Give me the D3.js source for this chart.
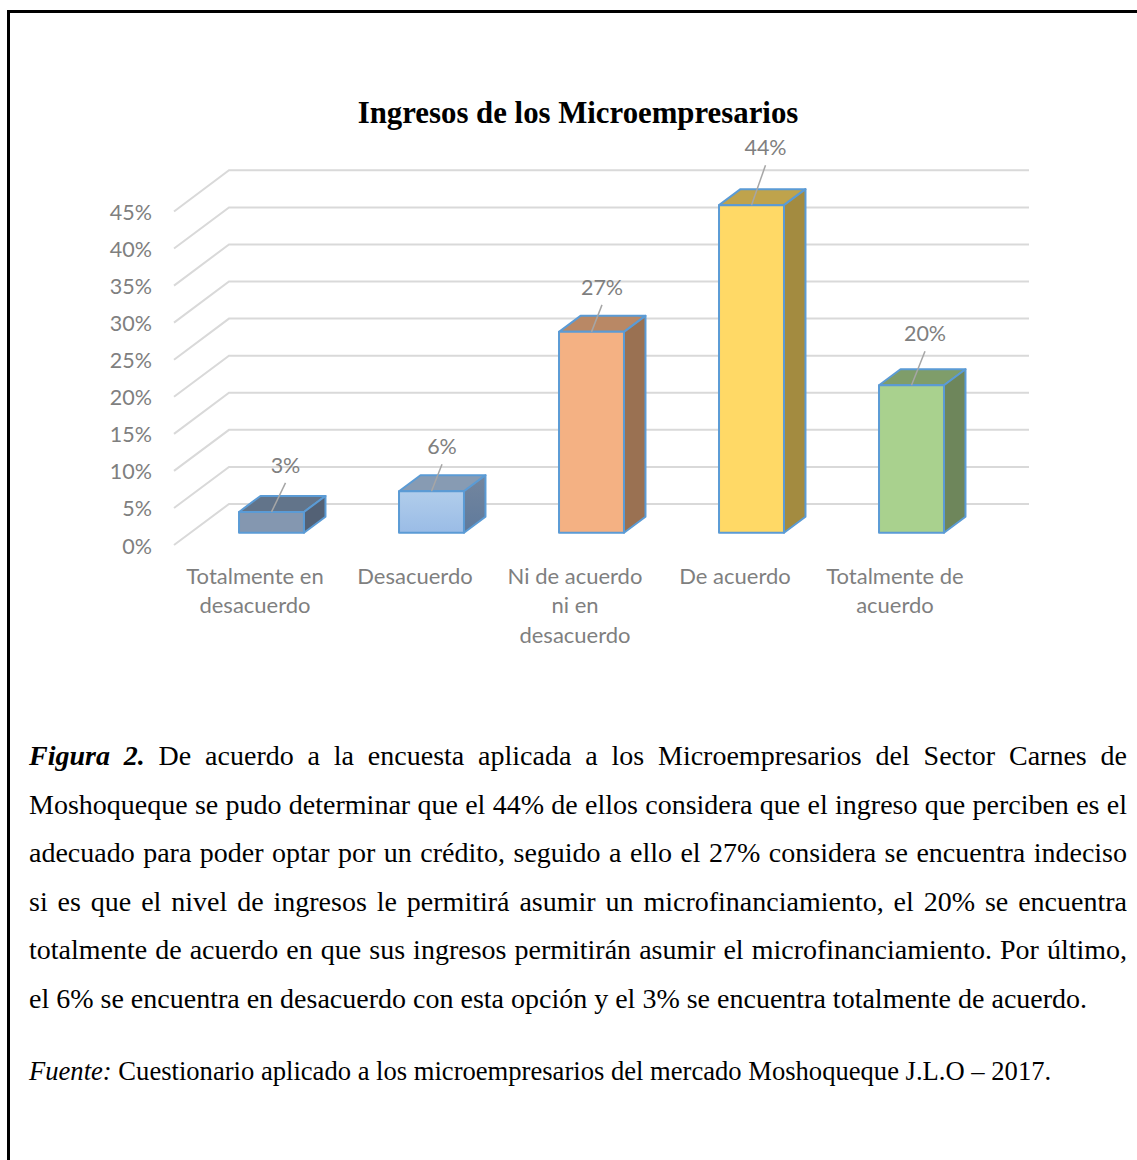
<!DOCTYPE html>
<html>
<head>
<meta charset="utf-8">
<title>Ingresos de los Microempresarios</title>
<script src="https://cdnjs.cloudflare.com/ajax/libs/d3/7.8.5/d3.min.js"></script>
<style>
	html, body { margin: 0; padding: 0; background: #fff; }
	svg { display: block; }
</style>
</head>
<body>
<div id="chart"></div>
<script>
var title = 'Ingresos de los Microempresarios';
var categories = ['Totalmente en desacuerdo', 'Desacuerdo', 'Ni de acuerdo ni en desacuerdo', 'De acuerdo', 'Totalmente de acuerdo'];
var categoryLines = [['Totalmente en', 'desacuerdo'], ['Desacuerdo'], ['Ni de acuerdo', 'ni en', 'desacuerdo'], ['De acuerdo'], ['Totalmente de', 'acuerdo']];
var values = [2.8, 5.6, 27.1, 44.2, 19.9];
var yTicks = [0, 5, 10, 15, 20, 25, 30, 35, 40, 45];

var frontColors = ['#8497b0', 'url(#front-blue)', '#f4b183', '#ffd966', '#a9d18e'];
var topColors = ['#62748a', '#879bb3', '#b98865', '#bfa34c', '#7f9d6a'];
var sideColors = ['#536175', 'url(#side-blue)', '#9a7152', '#a38b40', '#6e865b'];

// how far each label sits from the bar top, x and y
var leaderOffsets = [[14, -29], [10.5, -27], [10.5, -27], [14, -40], [13.5, -34]];

var captionLead = 'Figura 2.';
var captionLines = [
	'De acuerdo a la encuesta aplicada a los Microempresarios del Sector Carnes de',
	'Moshoqueque se pudo determinar que el 44% de ellos considera que el ingreso que perciben es el',
	'adecuado para poder optar por un crédito, seguido a ello el 27% considera se encuentra indeciso',
	'si es que el nivel de ingresos le permitirá asumir un microfinanciamiento, el 20% se encuentra',
	'totalmente de acuerdo en que sus ingresos permitirán asumir el microfinanciamiento. Por último,',
	'el 6% se encuentra en desacuerdo con esta opción y el 3% se encuentra totalmente de acuerdo.'
];
var sourceLead = 'Fuente:';
var sourceText = ' Cuestionario aplicado a los microempresarios del mercado Moshoqueque J.L.O – 2017.';

var width = 1137, height = 1160;
var sans = 'Lato, Carlito, Calibri, sans-serif';
var serif = '"Liberation Serif", "Times New Roman", serif';

var svg = d3.select('#chart').append('svg').attr('width', width).attr('height', height);

// frame, only top and left
svg.append('path')
	.attr('d', d3.line()([[1137, 11.5], [8.5, 11.5], [8.5, 1160]]))
	.attr('fill', 'none')
	.attr('stroke', '#000')
	.attr('stroke-width', 3);

var defs = svg.append('defs');

function gradient(id, from, to) {
	var g = defs.append('linearGradient').attr('id', id)
		.attr('x1', 0).attr('y1', 0).attr('x2', 0).attr('y2', 1);
	g.append('stop').attr('offset', '0%').attr('stop-color', from);
	g.append('stop').attr('offset', '100%').attr('stop-color', to);
}
gradient('front-blue', '#b1cdeb', '#9abce6');
gradient('side-blue', '#74869e', '#5f7a9c');

var yFront = d3.scaleLinear().domain([0, 45]).range([545, 211.5]);
var yBack = d3.scaleLinear().domain([0, 45]).range([504, 170.3]);
var yBar = d3.scaleLinear().domain([0, 45]).range([532.7, 199.2]);

var xBand = d3.scaleBand()
	.domain(categories)
	.range([191.5, 991.5])
	.paddingInner(0.594)
	.paddingOuter(0.297);

var floorLeft = 174, wallLeft = 229, wallRight = 1029;
var barDx = 21.5, barDy = 16;

// gridlines
var grid = svg.append('g');

grid.selectAll('path')
	.data(yTicks)
	.enter()
	.append('path')
	.attr('d', function(d) {
		return d3.line()([[floorLeft, yFront(d)], [wallLeft, yBack(d)], [wallRight, yBack(d)]]);
	})
	.attr('fill', 'none')
	.attr('stroke', '#d9d9d9')
	.attr('stroke-width', 2);

// y axis, labels only
var yAxis = d3.axisLeft(yFront)
	.tickValues(yTicks)
	.tickSize(0)
	.tickPadding(0)
	.tickFormat(function(d) { return d + '%'; });

var yAxisG = svg.append('g')
	.attr('transform', 'translate(152,0)')
	.call(yAxis);

yAxisG.select('.domain').remove();
yAxisG.selectAll('text')
	.attr('dy', 8)
	.attr('fill', '#7f7f7f')
	.style('font-family', sans)
	.style('font-size', '21.5px');

// bars
var bars = svg.append('g').selectAll('g')
	.data(values)
	.enter()
	.append('g');

function barLeft(i) { return xBand(categories[i]); }
function barRight(i) { return barLeft(i) + xBand.bandwidth(); }

bars.append('path')
	.attr('d', function(d, i) {
		var x0 = barLeft(i), x1 = barRight(i), y = yBar(d);
		return d3.line()([[x0, y], [x0 + barDx, y - barDy], [x1 + barDx, y - barDy], [x1, y]]) + 'Z';
	})
	.attr('fill', function(d, i) { return topColors[i]; });

bars.append('path')
	.attr('d', function(d, i) {
		var x1 = barRight(i), y = yBar(d), y0 = yBar(0);
		return d3.line()([[x1, y], [x1 + barDx, y - barDy], [x1 + barDx, y0 - barDy], [x1, y0]]) + 'Z';
	})
	.attr('fill', function(d, i) { return sideColors[i]; });

bars.append('rect')
	.attr('x', function(d, i) { return barLeft(i); })
	.attr('y', function(d) { return yBar(d); })
	.attr('width', xBand.bandwidth())
	.attr('height', function(d) { return yBar(0) - yBar(d); })
	.attr('fill', function(d, i) { return frontColors[i]; });

bars.selectAll('path, rect')
	.attr('stroke', '#5b9bd5')
	.attr('stroke-width', 2)
	.attr('stroke-linejoin', 'round');

// data labels and their leader lines
bars.append('line')
	.attr('x1', function(d, i) { return barLeft(i) + xBand.bandwidth() / 2; })
	.attr('y1', function(d) { return yBar(d); })
	.attr('x2', function(d, i) { return barLeft(i) + xBand.bandwidth() / 2 + leaderOffsets[i][0]; })
	.attr('y2', function(d, i) { return yBar(d) + leaderOffsets[i][1]; })
	.attr('stroke', '#a6a6a6')
	.attr('stroke-width', 1.5);

bars.append('text')
	.attr('x', function(d, i) { return barLeft(i) + xBand.bandwidth() / 2 + leaderOffsets[i][0]; })
	.attr('y', function(d, i) { return yBar(d) + leaderOffsets[i][1] - 10; })
	.attr('text-anchor', 'middle')
	.attr('fill', '#7f7f7f')
	.style('font-family', sans)
	.style('font-size', '21.5px')
	.text(function(d) { return Math.round(d) + '%'; });

// category labels
var catLabels = svg.append('g').selectAll('text')
	.data(categories)
	.enter()
	.append('text')
	.attr('text-anchor', 'middle')
	.attr('fill', '#7f7f7f')
	.style('font-family', sans)
	.style('font-size', '22px');

catLabels.selectAll('tspan')
	.data(function(d, i) {
		return categoryLines[i].map(function(line, n) {
			return { line: line, n: n, x: xBand(d) + xBand.bandwidth() / 2 - 16.5 };
		});
	})
	.enter()
	.append('tspan')
	.attr('x', function(d) { return d.x; })
	.attr('y', function(d) { return 584 + d.n * 29.3; })
	.text(function(d) { return d.line; });

// title
svg.append('text')
	.attr('x', 578)
	.attr('y', 123)
	.attr('text-anchor', 'middle')
	.attr('fill', '#000')
	.style('font-family', serif)
	.style('font-weight', 'bold')
	.style('font-size', '30.8px')
	.text(title);

// caption, justified line by line
var textLeft = 29, textRight = 1127, captionTop = 765, captionStep = 48.6, captionSize = 28;

captionLines.forEach(function(line, i) {
	var t = svg.append('text')
		.attr('x', textLeft)
		.attr('y', captionTop + i * captionStep)
		.attr('fill', '#000')
		.style('font-family', serif)
		.style('font-size', captionSize + 'px');

	if (i === 0) {
		t.append('tspan')
			.style('font-weight', 'bold')
			.style('font-style', 'italic')
			.text(captionLead + ' ');
	}
	t.append('tspan').text(line);

	if (i < captionLines.length - 1) {
		var spaces = t.text().split(' ').length - 1;
		var extra = (textRight - textLeft - t.node().getComputedTextLength()) / spaces;
		t.style('word-spacing', extra + 'px');
	}
});

var source = svg.append('text')
	.attr('x', textLeft)
	.attr('y', 1080)
	.attr('fill', '#000')
	.style('font-family', serif)
	.style('font-size', '26.6px');

source.append('tspan').style('font-style', 'italic').text(sourceLead);
source.append('tspan').text(sourceText);
</script>
</body>
</html>
